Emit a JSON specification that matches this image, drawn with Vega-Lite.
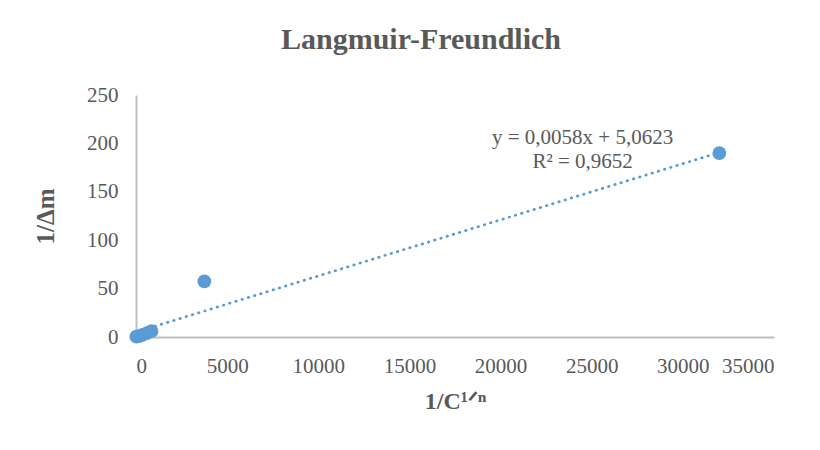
{
  "$schema": "https://vega.github.io/schema/vega-lite/v6.json",
  "width": 638,
  "height": 242,
  "autosize": "none",
  "padding": {"left": 136, "top": 95, "right": 46, "bottom": 113},
  "background": "white",
  "title": {
    "text": "Langmuir-Freundlich",
    "font": "Liberation Serif",
    "fontSize": 30,
    "fontWeight": "bold",
    "color": "#595959",
    "anchor": "middle",
    "dx": -34,
    "offset": 29
  },
  "config": {
    "view": {"stroke": null},
    "axis": {
      "labelFont": "Liberation Serif",
      "labelFontSize": 21,
      "labelColor": "#595959",
      "titleFont": "Liberation Serif",
      "titleFontSize": 24,
      "titleFontWeight": "bold",
      "titleColor": "#595959",
      "domainColor": "#bfbfbf",
      "domainWidth": 2,
      "ticks": false,
      "grid": false
    }
  },
  "datasets": {
    "points": [
      {"x": 20, "y": 0.3},
      {"x": 150, "y": 1.0},
      {"x": 350, "y": 2.2},
      {"x": 600, "y": 4.0},
      {"x": 850, "y": 6.0},
      {"x": 3750, "y": 57.5},
      {"x": 32000, "y": 190}
    ],
    "trend": [
      {"x": 20, "y": 5.18},
      {"x": 32000, "y": 190.66}
    ],
    "labels": [
      {"x": 24500, "y": 206, "text": "y = 0,0058x + 5,0623"},
      {"x": 24500, "y": 180.5, "text": "R² = 0,9652"}
    ]
  },
  "layer": [
    {
      "data": {"name": "trend"},
      "mark": {"type": "line", "color": "#5b9bd5", "strokeWidth": 2.75, "strokeDash": [0.5, 6], "strokeCap": "round"},
      "encoding": {
        "x": {"field": "x", "type": "quantitative", "scale": {"domain": [0, 35000], "nice": false},
              "axis": {"values": [0, 5000, 10000, 15000, 20000, 25000, 30000, 35000], "labelPadding": 18, "format": "d", "title": "1/C¹ᐟⁿ", "titlePadding": 13}},
        "y": {"field": "y", "type": "quantitative", "scale": {"domain": [0, 250], "nice": false},
              "axis": {"values": [0, 50, 100, 150, 200, 250], "labelPadding": 18, "title": "1/Δm", "titleFontSize": 25, "titlePadding": 28}}
      }
    },
    {
      "data": {"name": "points"},
      "mark": {"type": "circle", "color": "#5b9bd5", "opacity": 1, "size": 190},
      "encoding": {
        "x": {"field": "x", "type": "quantitative"},
        "y": {"field": "y", "type": "quantitative"}
      }
    },
    {
      "data": {"name": "labels"},
      "mark": {"type": "text", "font": "Liberation Serif", "fontSize": 21, "color": "#595959", "align": "center", "baseline": "middle"},
      "encoding": {
        "x": {"field": "x", "type": "quantitative"},
        "y": {"field": "y", "type": "quantitative"},
        "text": {"field": "text"}
      }
    }
  ]
}
